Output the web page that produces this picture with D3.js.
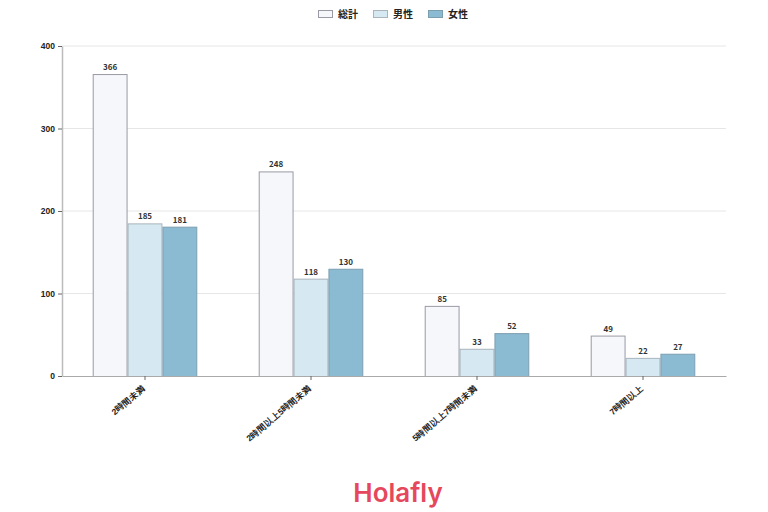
<!DOCTYPE html>
<html>
<head>
<meta charset="utf-8">
<script src="https://cdn.jsdelivr.net/npm/d3@7"></script>
<style>
  body { margin: 0; background: #fff; }
  svg { font-family: "Noto Sans CJK JP", "Noto Sans", sans-serif; }
</style>
</head>
<body>
<svg id="chart" width="768" height="512"></svg>
<script>
// data
const categories = ["2時間未満", "2時間以上5時間未満", "5時間以上7時間未満", "7時間以上"];
const seriesNames = ["総計", "男性", "女性"];
const total = [366, 248, 85, 49];
const male = [185, 118, 33, 22];
const female = [181, 130, 52, 27];
const yTicks = [0, 100, 200, 300, 400];

const colors = ["#f5f7fa", "#d6e8f1", "#8bbbd2"];
const strokes = ["#9a9aa6", "#a9b4bb", "#7c9fb0"];

const margin = {top: 46, right: 42, bottom: 136, left: 62};
const width = 768 - margin.left - margin.right;
const height = 512 - margin.top - margin.bottom;

const svg = d3.select("#chart");
const g = svg.append("g").attr("transform", "translate(" + margin.left + "," + margin.top + ")");

const x0 = d3.scaleBand().domain(categories).range([0, width]).paddingInner(0.37).paddingOuter(0.185);
const x1 = d3.scaleBand().domain(seriesNames).range([0, x0.bandwidth()]);
const y = d3.scaleLinear().domain([0, 400]).range([height, 0]);

// grid
g.selectAll(".grid").data(yTicks.slice(1)).enter().append("line")
  .attr("x1", 0).attr("x2", width)
  .attr("y1", d => y(d)).attr("y2", d => y(d))
  .attr("stroke", "#e6e6e6").attr("stroke-width", 1);

const rows = categories.map((c, i) => ({cat: c, vals: [total[i], male[i], female[i]]}));

const grp = g.selectAll(".grp").data(rows).enter().append("g")
  .attr("transform", d => "translate(" + x0(d.cat) + ",0)");

grp.selectAll("rect").data(d => d.vals.map((v, j) => ({name: seriesNames[j], v: v, j: j})))
  .enter().append("rect")
  .attr("x", d => x1(d.name) + 0.5)
  .attr("y", d => y(d.v) + 0.5)
  .attr("width", x1.bandwidth() - 1)
  .attr("height", d => height - y(d.v))
  .attr("fill", d => colors[d.j])
  .attr("stroke", d => strokes[d.j])
  .attr("stroke-width", 1);

grp.selectAll("text").data(d => d.vals.map((v, j) => ({name: seriesNames[j], v: v})))
  .enter().append("text")
  .attr("x", d => x1(d.name) + x1.bandwidth() / 2)
  .attr("y", d => y(d.v) - 4)
  .attr("text-anchor", "middle")
  .attr("font-size", 8).attr("font-weight", "bold").attr("fill", "#333")
  .text(d => d.v);

// axes
const xAxis = g.append("g").attr("transform", "translate(0," + height + ")")
  .call(d3.axisBottom(x0).tickSize(4).tickSizeOuter(0));
xAxis.select(".domain").attr("stroke", "#aaa").attr("stroke-width", 1.2);
xAxis.selectAll(".tick line").attr("stroke", "#666");
xAxis.selectAll("text")
  .attr("font-size", 8.5).attr("font-weight", "bold").attr("fill", "#222")
  .attr("text-anchor", "end")
  .attr("x", 0).attr("y", 0).attr("dx", 0).attr("dy", "0.35em")
  .attr("transform", "translate(-1,11) rotate(-40)");

const yAxis = g.append("g").call(d3.axisLeft(y).tickValues(yTicks).tickSize(4).tickSizeOuter(0));
yAxis.select(".domain").attr("stroke", "#bbb").attr("stroke-width", 1.5);
yAxis.selectAll(".tick line").attr("stroke", "#666");
yAxis.selectAll("text").attr("font-size", 8.5).attr("font-weight", "bold").attr("fill", "#222");

// legend
const legend = svg.append("g").attr("transform", "translate(318,10)");
const li = legend.selectAll("g").data(seriesNames).enter().append("g")
  .attr("transform", (d, i) => "translate(" + (i * 55) + ",0)");
li.append("rect").attr("x", 0.5).attr("y", 0.5).attr("width", 14).attr("height", 7)
  .attr("fill", (d, i) => colors[i]).attr("stroke", (d, i) => strokes[i]);
li.append("text").attr("x", 20).attr("y", 8)
  .attr("font-size", 10).attr("font-weight", "bold").attr("fill", "#222")
  .text(d => d);

// logo
svg.append("text").attr("x", 398).attr("y", 502).attr("text-anchor", "middle")
  .attr("font-family", "Inter, 'Noto Sans', sans-serif")
  .attr("font-size", 26).attr("font-weight", 600).attr("fill", "#e5475c")
  .text("Holafly");
</script>
</body>
</html>
